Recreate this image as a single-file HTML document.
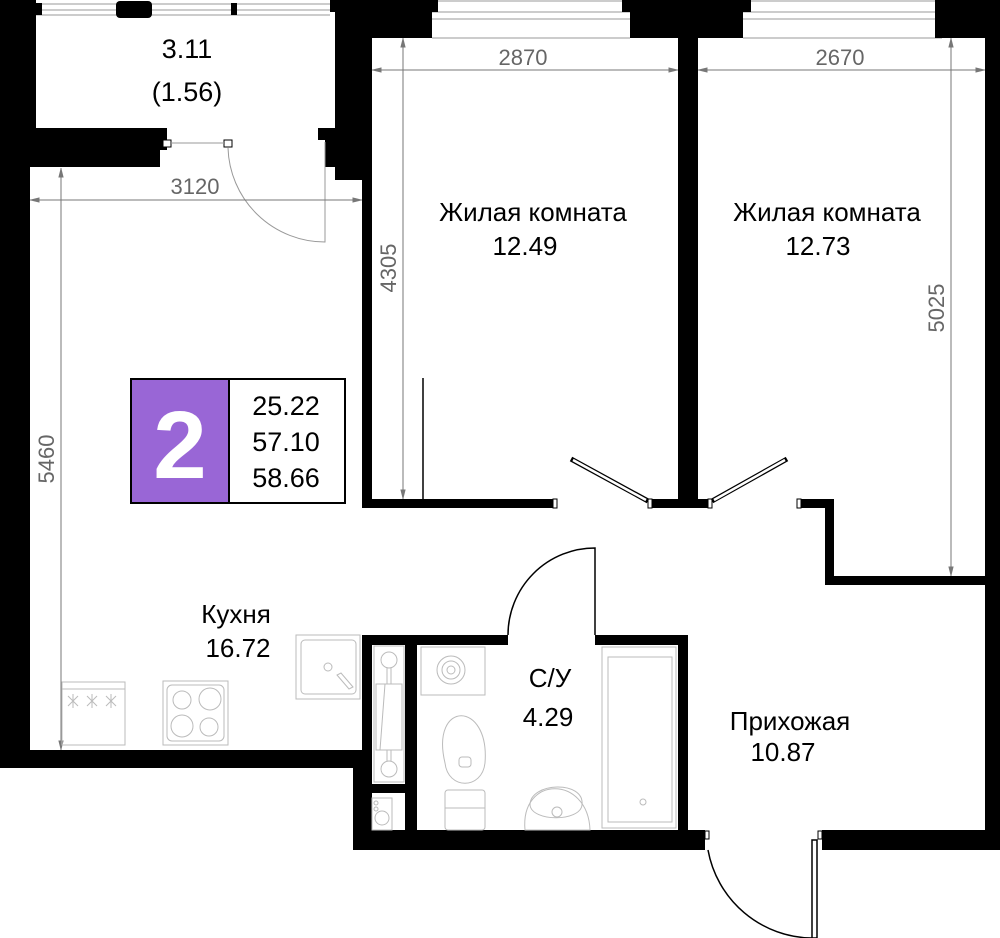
<!DOCTYPE html>
<html><head><meta charset="utf-8"><style>
html,body{margin:0;padding:0;background:#fff}
svg{display:block}
text{font-family:"Liberation Sans","DejaVu Sans",sans-serif}
</style></head><body>
<svg width="1000" height="938" viewBox="0 0 1000 938" xmlns="http://www.w3.org/2000/svg">
<rect width="1000" height="938" fill="#fff"/>
<g stroke="#999" stroke-width="1" fill="none">
<line x1="36" y1="4" x2="330" y2="4"/><line x1="36" y1="10" x2="330" y2="10"/><line x1="36" y1="15" x2="330" y2="15"/>
<line x1="438" y1="1" x2="630" y2="1"/><line x1="432" y1="12" x2="630" y2="12"/><line x1="432" y1="19" x2="630" y2="19"/><line x1="432" y1="38" x2="630" y2="38"/>
<line x1="751" y1="1" x2="935" y2="1"/><line x1="743" y1="12" x2="942" y2="12"/><line x1="743" y1="19" x2="942" y2="19"/><line x1="743" y1="38" x2="942" y2="38"/>
</g>
<g fill="#000">
<rect x="0" y="0" width="36" height="167"/>
<rect x="30" y="3" width="12" height="12"/>
<rect x="116" y="1" width="36" height="17" rx="4"/>
<rect x="231" y="3" width="6" height="12"/>
<rect x="0" y="128" width="167" height="22"/>
<rect x="0" y="128" width="160" height="39"/>
<rect x="318" y="128" width="54" height="12"/>
<rect x="325" y="128" width="47" height="39"/>
<rect x="330" y="0" width="108" height="12"/>
<rect x="335" y="0" width="97" height="38"/>
<rect x="335" y="0" width="37" height="180"/>
<rect x="0" y="160" width="30" height="608"/>
<rect x="0" y="750" width="362" height="18"/>
<rect x="353" y="750" width="9" height="100"/>
<rect x="362" y="38" width="10" height="470"/>
<rect x="362" y="499" width="195" height="9"/>
<rect x="648" y="499" width="64" height="9"/>
<rect x="678" y="0" width="20" height="508"/>
<rect x="622" y="0" width="129" height="12"/>
<rect x="630" y="0" width="113" height="38"/>
<rect x="935" y="0" width="65" height="38"/>
<rect x="985" y="0" width="15" height="850"/>
<rect x="797" y="499" width="37" height="9"/>
<rect x="825" y="499" width="9" height="86"/>
<rect x="825" y="576" width="175" height="9"/>
<rect x="362" y="635" width="146" height="10"/>
<rect x="595" y="635" width="93" height="10"/>
<rect x="678" y="635" width="10" height="200"/>
<rect x="362" y="635" width="10" height="200"/>
<rect x="405" y="645" width="12" height="190"/>
<rect x="372" y="784" width="36" height="9"/>
<rect x="353" y="830" width="352" height="20"/>
<rect x="822" y="830" width="178" height="20"/>
</g>
<g fill="#fff" stroke="#000" stroke-width="1">
<rect x="553" y="499" width="4" height="9"/><rect x="648" y="499" width="4" height="9"/>
<rect x="708" y="499" width="4" height="9"/><rect x="797" y="499" width="4" height="9"/>
<rect x="705" y="831" width="4" height="8"/><rect x="818" y="831" width="4" height="8"/>
<rect x="163" y="140" width="8" height="7"/><rect x="224" y="140" width="8" height="7"/>
</g>
<g stroke="#000" stroke-width="5" stroke-linecap="butt"><line x1="648" y1="501" x2="571" y2="459"/><line x1="712" y1="501" x2="787" y2="459"/></g>
<g stroke="#fff" stroke-width="2.5"><line x1="646" y1="500" x2="573" y2="460"/><line x1="714" y1="500" x2="785" y2="460"/></g>
<g fill="none" stroke="#000" stroke-width="1.5">
<path d="M508 635 A87 87 0 0 1 595 548 L595 635"/>
<path d="M708 850 A107 107 0 0 0 812 938"/>
<rect x="812" y="840" width="5" height="98" fill="#fff"/>
</g>
<g fill="none" stroke="#999" stroke-width="1">
<line x1="171" y1="143" x2="224" y2="143"/>
<path d="M228 148 A97 97 0 0 0 325 242 L325 142"/>
</g>
<line x1="423" y1="378" x2="423" y2="499" stroke="#000" stroke-width="1.5"/>
<g stroke="#777" stroke-width="1" fill="#777">
<line x1="30" y1="200" x2="362" y2="200"/>
<line x1="61" y1="168" x2="61" y2="750"/>
<line x1="372" y1="70" x2="678" y2="70"/>
<line x1="403" y1="38" x2="403" y2="499"/>
<line x1="698" y1="70" x2="985" y2="70"/>
<line x1="951" y1="38" x2="951" y2="576"/>
<path d="M31 200 l8 -2 v4z M361 200 l-8 -2 v4z M61 169 l-2 8 h4z M61 749 l-2 -8 h4z M373 70 l8 -2 v4z M677 70 l-8 -2 v4z M403 39 l-2 8 h4z M403 498 l-2 -8 h4z M699 70 l8 -2 v4z M984 70 l-8 -2 v4z M951 39 l-2 8 h4z M951 575 l-2 -8 h4z"/>
</g>
<g fill="#666" font-size="22" text-anchor="middle">
<text x="195" y="194">3120</text>
<text x="523" y="65">2870</text>
<text x="840" y="65">2670</text>
<text transform="translate(54,459) rotate(-90)">5460</text>
<text transform="translate(396,268) rotate(-90)">4305</text>
<text transform="translate(944,308) rotate(-90)">5025</text>
</g>
<g fill="none" stroke="#bbb" stroke-width="1">
<rect x="62" y="682" width="63" height="63"/><line x1="62" y1="689" x2="125" y2="689"/>
<path d="M68 696 l10 10 M78 696 l-10 10 M73 694 v14 M87 696 l10 10 M97 696 l-10 10 M92 694 v14 M106 696 l10 10 M116 696 l-10 10 M111 694 v14"/>
<rect x="163" y="681" width="65" height="64"/><rect x="167" y="685" width="57" height="56" rx="5"/>
<circle cx="182" cy="700" r="9"/><circle cx="210" cy="699" r="11"/><circle cx="182" cy="726" r="11"/><circle cx="209" cy="727" r="9"/>
<rect x="296" y="635" width="64" height="64"/><rect x="301" y="640" width="55" height="54" rx="4"/><circle cx="328" cy="667" r="4"/><path d="M337 675 l12 14 l4 -2 l-12 -14z"/>
<rect x="374" y="646" width="30" height="136"/><circle cx="389" cy="660" r="8"/><circle cx="389" cy="769" r="8"/>
<rect x="376" y="684" width="26" height="66"/><line x1="385" y1="684" x2="380" y2="750"/><line x1="387" y1="668" x2="387" y2="684"/><line x1="391" y1="668" x2="391" y2="684"/><line x1="387" y1="750" x2="387" y2="761"/><line x1="391" y1="750" x2="391" y2="761"/>
<rect x="372" y="798" width="20" height="32"/><circle cx="382" cy="818" r="7"/><circle cx="376" cy="803" r="2"/><circle cx="376" cy="809" r="2"/>
<rect x="421" y="647" width="64" height="48"/><circle cx="451" cy="670" r="14"/><circle cx="451" cy="670" r="9"/><circle cx="451" cy="670" r="4"/>
<path d="M445 763 C430 700 490 700 485 763 C482 790 448 790 445 763z"/><rect x="459" y="757" width="12" height="10" rx="3"/>
<rect x="445" y="790" width="40" height="40" rx="3"/><line x1="445" y1="808" x2="485" y2="808"/>
<path d="M525 830 C520 775 588 775 590 830z"/><path d="M530 805 C530 782 585 780 582 805 C580 822 532 822 530 805z"/><circle cx="557" cy="812" r="5"/>
<rect x="602" y="647" width="74" height="181"/><rect x="608" y="657" width="64" height="165"/><circle cx="643" cy="802" r="3"/>
</g>
<g fill="#000" font-size="26" text-anchor="middle">
<text x="187" y="58" font-size="27">3.11</text>
<text x="187" y="101" font-size="27">(1.56)</text>
<text x="533" y="221">Жилая комната</text>
<text x="525" y="255">12.49</text>
<text x="827" y="221">Жилая комната</text>
<text x="818" y="255">12.73</text>
<text x="236" y="623">Кухня</text>
<text x="238" y="657">16.72</text>
<text x="550" y="687">С/У</text>
<text x="548" y="726">4.29</text>
<text x="790" y="730">Прихожая</text>
<text x="783" y="761">10.87</text>
</g>
<rect x="131" y="379" width="214" height="124" fill="#fff" stroke="#000" stroke-width="2"/>
<rect x="131" y="379" width="98" height="124" fill="#9966D6" stroke="#000" stroke-width="2"/>
<text x="180" y="478" fill="#fff" font-size="96" font-weight="bold" text-anchor="middle">2</text>
<g fill="#000" font-size="27" text-anchor="middle">
<text x="286" y="415">25.22</text>
<text x="286" y="451">57.10</text>
<text x="286" y="487">58.66</text>
</g>
</svg>
</body></html>
